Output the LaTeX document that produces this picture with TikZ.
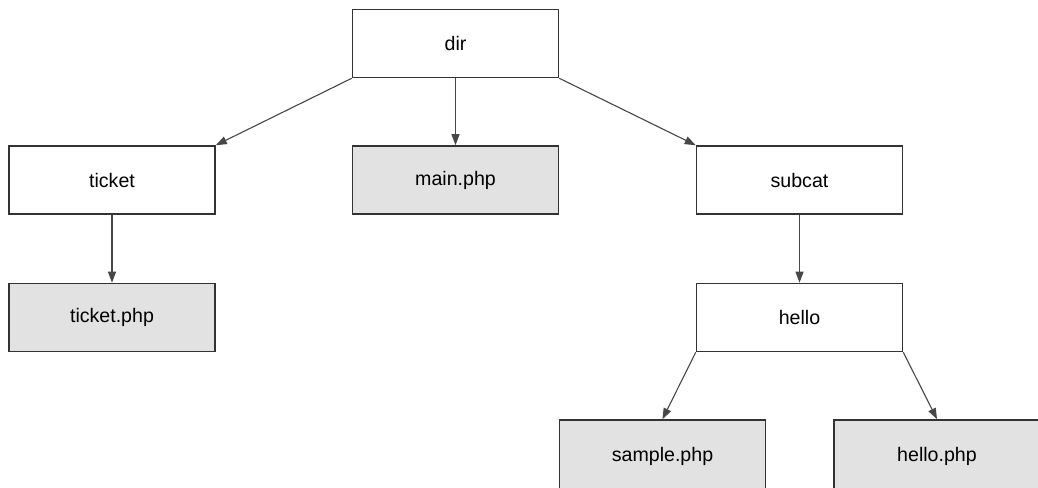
\documentclass[tikz,border=0pt]{standalone}
\usepackage{fontspec}
\setmainfont{Liberation Sans}
\usepackage{tikz}
\usetikzlibrary{arrows.meta}

\definecolor{boxline}{HTML}{333333}
\definecolor{fileFill}{HTML}{E2E2E2}

\tikzset{
    dirbox/.style={draw=boxline, line width=1.6pt, fill=white, minimum width=206pt,
        minimum height=68pt, inner sep=0pt, font=\fontsize{19.6}{22}\selectfont},
    filebox/.style={dirbox, fill=fileFill},
    cutbox/.style={filebox, minimum height=72pt}
}
\tikzset{link/.style={draw=boxline!90, line width=1.1pt, -{Triangle[length=11pt,width=8pt]}}}

\begin{document}
\begin{tikzpicture}[x=1pt, y=-1pt]
                \clip (0,0) rectangle (1038,487);
                \fill[white] (0,0) rectangle (1038,487);
                % folders
                \node[dirbox] (dir) at (455.5,43.5) {dir};
                \node[dirbox] (ticket) at (112,180) {ticket};
                \node[filebox] (main) at (455.5,180) {main.php};
                \node[dirbox] (subcat) at (799.5,180) {subcat};
                \node[filebox] (ticketphp) at (112,317.5) {ticket.php};
                \node[dirbox] (hello) at (799.5,317.5) {hello};
                \node[cutbox] (sample) at (662.5,456) {sample.php};
                \node[cutbox] (hellophp) at (937,456) {hello.php};
                % links
                \draw[link] (dir.south west) -- (ticket.north east);
                \draw[link] (dir.south) -- (main.north);
                \draw[link] (dir.south east) -- (subcat.north west);
                \draw[link] (ticket.south) -- (ticketphp.north);
                \draw[link] (subcat.south) -- (hello.north);
                \draw[link] (hello.south west) -- (sample.north);
                \draw[link] (hello.south east) -- (hellophp.north);
            \end{tikzpicture}
\end{document}
